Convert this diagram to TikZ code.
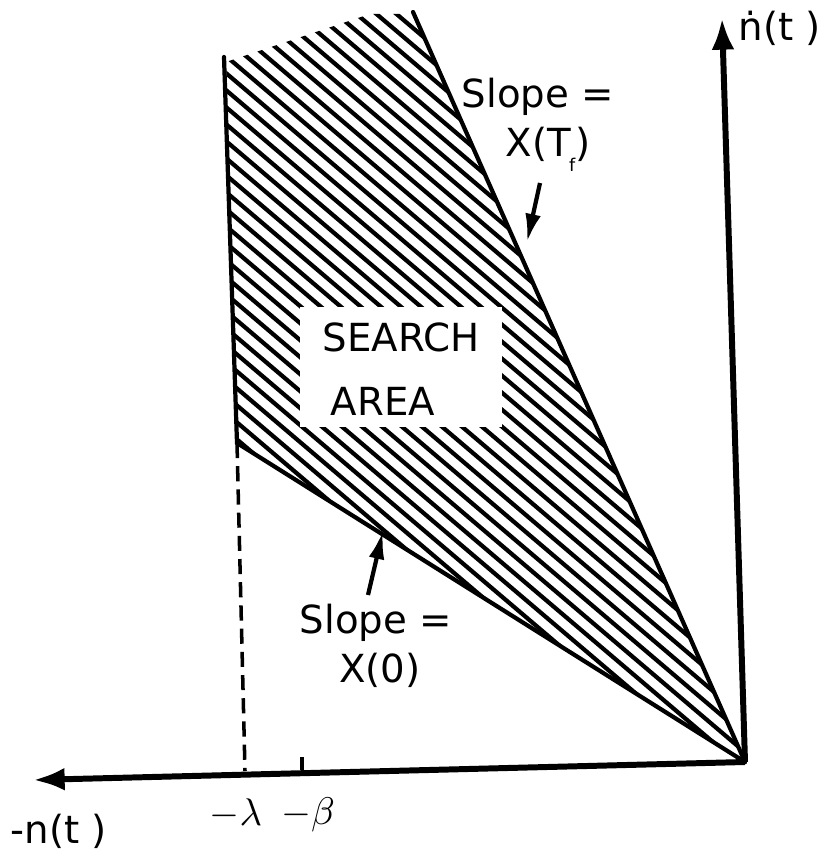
\documentclass[tikz,border=0pt]{standalone}
\usepackage{fontspec}
\setmainfont{DejaVu Sans}
\usetikzlibrary{arrows.meta}

\begin{document}
\begin{tikzpicture}[x=0.01cm, y=-0.01cm,
  every node/.style={inner sep=0pt, font=\fontsize{11}{13}\selectfont},
  bound/.style={line width=1.2pt, line cap=round},
  axis/.style={line width=1.7pt, -{Latex[length=9pt,width=6.5pt]}},
  hatch/.style={line width=1.2pt, line cap=round},
  pointer/.style={line width=1.2pt, -{Latex[length=8pt,width=4.5pt]}}]
  \useasboundingbox[fill=white] (0,0) rectangle (825,849);
  \coordinate (O) at (745,762);
  \coordinate (ytip) at (722,18);
  \coordinate (xtip) at (33,780);
  \coordinate (A) at (224,57);
  \coordinate (B) at (237,443);
  \coordinate (C) at (413,12);
  \coordinate (lamfoot) at (245,771);
  \coordinate (betafoot) at (302,770);
  \coordinate (betatop) at (302,757);
  \coordinate (tailT) at (540,183);
  \coordinate (tipT) at (527,242);
  \coordinate (tailZ) at (368,595);
  \coordinate (tipZ) at (383,531);

  \begin{scope}
    \clip (226,62) -- (370,14) -- (415,14) -- (O) -- (B) -- cycle;
    \foreach \c in {-340,-323,...,250}{
      \draw[hatch] (200,{\c+170}) -- (760,{\c+646});
    }
  \end{scope}
  \node[fill=white, minimum width=2.02cm, minimum height=1.19cm] (box) at (401,367) {};
  \node (search) at (401,337) {SEARCH};
  \node (area) at (383,401) {AREA};

  \draw[bound] (A) -- (B) -- (O);
  \draw[bound] (C) -- (O);
  \draw[line width=1pt, dash pattern=on 4.3pt off 2.3pt] (B) -- (lamfoot);
  \draw[axis] (O) -- (ytip);
  \draw[axis] (O) -- (xtip);
  \draw[line width=1pt] (betafoot) -- (betatop);

  \node[anchor=base] (slopeT) at (538,108) {Slope =};
  \node[anchor=base] (valT) at (548,157) {X(T\kern-0.5pt\raisebox{-4pt}{\tiny f})};
  \node[anchor=base] (slopeZ) at (376,633) {Slope =};
  \node[anchor=base] (valZ) at (380,682) {X(0)};
  \draw[pointer] (tailT) -- (tipT);
  \draw[pointer] (tailZ) -- (tipZ);

  \node (ylabel) at (780,28) {ṅ(t )};
  \node (xlabel) at (59,831) {-n(t )};
  \node (lam) at (236,814) {$-\lambda$};
  \node (beta) at (308,815) {$-\beta$};
\end{tikzpicture}
\end{document}
